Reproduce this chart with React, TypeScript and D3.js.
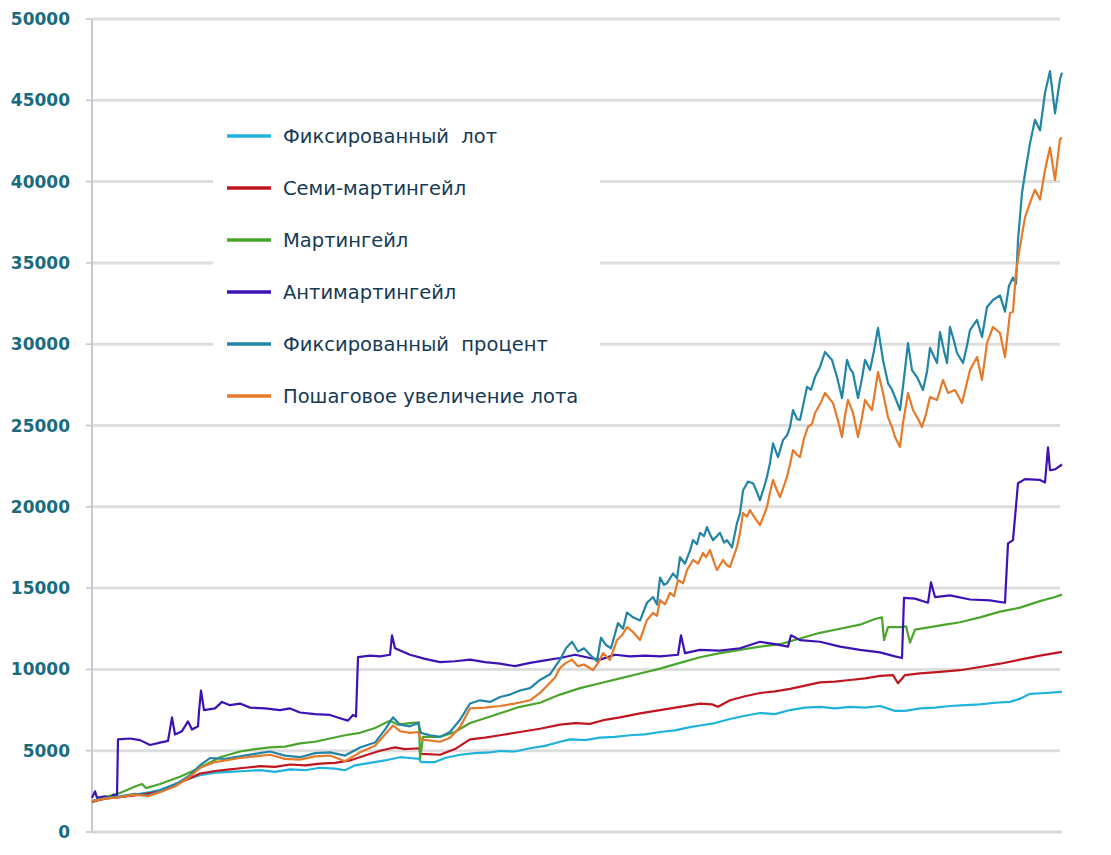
import React from "react";
import * as d3 from "d3";

type Pt = [number, number];

const yTicks = [0, 5000, 10000, 15000, 20000, 25000, 30000, 35000, 40000, 45000, 50000];

const seriesNames = [
  "Фиксированный  лот",
  "Семи-мартингейл",
  "Мартингейл",
  "Антимартингейл",
  "Фиксированный  процент",
  "Пошаговое увеличение лота",
];

const seriesColors = ["#1fb2dc", "#c0161f", "#4ba52d", "#3d12b5", "#2385a5", "#e47a2a"];

const fixedLot: Pt[] = [
  [0, 1850], [8, 2050], [18, 2100], [28, 2150], [43, 2300], [58, 2450], [68, 2600], [83, 2950], [98, 3300],
  [108, 3500], [123, 3650], [138, 3700], [153, 3750], [168, 3800], [183, 3700], [198, 3850], [213, 3800],
  [228, 3950], [243, 3900], [253, 3800], [263, 4100], [278, 4250], [293, 4400], [308, 4600], [318, 4550],
  [327, 4500], [329, 4300], [343, 4300], [353, 4550], [368, 4750], [383, 4850], [398, 4900], [408, 4980],
  [423, 4950], [438, 5150], [453, 5300], [468, 5550], [478, 5700], [493, 5650], [508, 5800], [523, 5850],
  [538, 5950], [553, 6000], [568, 6150], [583, 6250], [598, 6450], [608, 6550], [623, 6700], [638, 6950],
  [653, 7150], [668, 7320], [683, 7250], [698, 7500], [713, 7650], [728, 7700], [743, 7600], [758, 7700],
  [773, 7650], [788, 7750], [803, 7450], [813, 7450], [828, 7600], [843, 7650], [858, 7750], [873, 7800],
  [888, 7850], [903, 7950], [918, 8000], [928, 8200], [938, 8500], [953, 8550], [970, 8620],
];

const semiMartingale: Pt[] = [
  [0, 1850], [13, 2050], [26, 2150], [43, 2250], [58, 2400], [68, 2500], [83, 2900], [98, 3300], [108, 3600],
  [123, 3750], [138, 3850], [153, 3950], [168, 4050], [183, 4000], [198, 4150], [213, 4100], [228, 4200],
  [243, 4250], [258, 4400], [273, 4700], [288, 5000], [303, 5200], [313, 5100], [327, 5150], [329, 4800],
  [348, 4750], [363, 5100], [378, 5700], [393, 5800], [408, 5950], [428, 6150], [448, 6350], [468, 6600],
  [483, 6700], [498, 6650], [513, 6900], [528, 7050], [548, 7300], [568, 7500], [588, 7700], [608, 7900],
  [620, 7850], [626, 7700], [638, 8100], [653, 8350], [668, 8550], [683, 8650], [698, 8800], [713, 9000],
  [728, 9200], [743, 9250], [758, 9350], [773, 9450], [788, 9600], [801, 9650], [806, 9150], [813, 9650],
  [828, 9750], [848, 9850], [868, 9950], [888, 10150], [908, 10350], [928, 10600], [948, 10850], [970, 11080],
];

const martingale: Pt[] = [
  [0, 1850], [13, 2150], [28, 2400], [43, 2800], [50, 2950], [54, 2700], [68, 2950], [88, 3400], [108, 3950],
  [128, 4600], [148, 4950], [163, 5100], [178, 5200], [193, 5250], [208, 5450], [223, 5550], [238, 5750],
  [253, 5950], [268, 6100], [283, 6400], [298, 6850], [306, 6600], [318, 6700], [327, 6750], [328, 4500],
  [331, 5850], [348, 5850], [363, 6150], [378, 6700], [393, 7000], [408, 7300], [428, 7700], [448, 7950],
  [468, 8450], [488, 8850], [508, 9150], [528, 9450], [548, 9750], [568, 10050], [588, 10400], [608, 10750],
  [628, 11000], [648, 11200], [668, 11400], [688, 11550], [708, 11900], [728, 12250], [748, 12500],
  [768, 12750], [783, 13100], [790, 13200], [792, 11800], [796, 12600], [808, 12600], [814, 12650],
  [818, 11650], [823, 12450], [838, 12600], [853, 12750], [868, 12900], [888, 13200], [908, 13550],
  [928, 13800], [948, 14200], [963, 14450], [970, 14600],
];

const antiMartingale: Pt[] = [
  [0, 2100], [3, 2500], [5, 2100], [13, 2200], [18, 2100], [22, 2300], [25, 2150], [26, 5700], [38, 5750],
  [48, 5650], [58, 5350], [68, 5500], [76, 5600], [80, 7050], [83, 6000], [90, 6200], [96, 6800], [100, 6300],
  [106, 6500], [107, 7400], [109, 8700], [112, 7500], [123, 7600], [130, 8000], [138, 7800], [148, 7900],
  [158, 7650], [173, 7600], [188, 7500], [198, 7600], [208, 7350], [223, 7250], [238, 7200], [248, 7000],
  [256, 6850], [261, 7200], [264, 7100], [266, 10750], [278, 10850], [288, 10800], [298, 10900], [300, 12100],
  [303, 11300], [318, 10900], [333, 10650], [348, 10450], [363, 10500], [378, 10600], [393, 10450],
  [408, 10350], [423, 10200], [438, 10400], [453, 10550], [468, 10700], [483, 10900], [498, 10700],
  [508, 10600], [523, 10900], [538, 10800], [553, 10850], [568, 10800], [586, 10900], [589, 12100],
  [593, 11000], [608, 11200], [628, 11150], [648, 11300], [668, 11700], [683, 11550], [696, 11400],
  [699, 12100], [708, 11800], [728, 11700], [748, 11400], [768, 11200], [788, 11050], [803, 10800],
  [810, 10700], [812, 14400], [823, 14350], [836, 14100], [839, 15350], [843, 14450], [858, 14550],
  [878, 14300], [898, 14250], [913, 14100], [916, 17750], [921, 17950], [926, 21450], [933, 21700],
  [948, 21650], [953, 21500], [956, 23650], [958, 22250], [963, 22300], [970, 22600],
];

const fixedPercent: Pt[] = [
  [0, 1900], [13, 2100], [28, 2200], [43, 2350], [56, 2250], [68, 2500], [83, 2900], [98, 3500], [108, 4100],
  [118, 4550], [133, 4500], [148, 4650], [163, 4800], [178, 4950], [193, 4700], [208, 4600], [223, 4850],
  [238, 4900], [253, 4700], [268, 5200], [283, 5500], [293, 6300], [301, 7050], [308, 6600], [318, 6500],
  [326, 6700], [329, 6100], [338, 5950], [348, 5850], [358, 6150], [368, 6900], [378, 7900], [388, 8100],
  [398, 8000], [408, 8300], [418, 8450], [428, 8700], [438, 8850], [448, 9350], [458, 9700],
  [463, 10150], [468, 10600], [474, 11300], [480, 11700], [486, 11100], [492, 11300], [498, 10900],
  [505, 10500], [509, 11950], [514, 11500], [519, 11300], [526, 12850], [531, 12500], [535, 13500],
  [541, 13200], [548, 13000], [555, 14100], [561, 14450], [565, 14000], [568, 15650], [572, 15200],
  [575, 15300], [581, 15900], [585, 15600], [588, 16900], [593, 16500], [598, 17300], [601, 17950],
  [605, 17700], [608, 18400], [612, 18200], [615, 18750], [618, 18300], [621, 17950], [625, 18200],
  [628, 18400], [632, 17800], [635, 17950], [640, 17500], [645, 19000], [648, 19600], [651, 21000],
  [656, 21550], [661, 21450], [665, 20900], [668, 20400], [672, 21200], [675, 21850], [678, 22700],
  [681, 23900], [686, 23050], [691, 24100], [695, 24400], [698, 24900], [701, 25950], [705, 25400],
  [708, 25340], [712, 26500], [715, 27370], [719, 27200], [723, 27980], [728, 28600], [733, 29520],
  [736, 29300], [740, 29030], [745, 27980], [750, 26690], [755, 29030], [758, 28500], [761, 28230],
  [766, 26690], [770, 27900], [773, 29030], [778, 28410], [782, 29600], [786, 31000], [791, 29030],
  [796, 27610], [800, 27200], [803, 26750], [808, 25950], [811, 27370], [816, 30070], [820, 28410],
  [825, 27980], [831, 27180], [835, 28300], [838, 29770], [845, 28840], [848, 30750], [852, 29600],
  [855, 28840], [858, 31060], [862, 30200], [865, 29460], [871, 28840], [875, 29900], [878, 30870],
  [885, 31490], [890, 30440], [895, 32290], [901, 32720], [908, 33000], [913, 32000], [917, 33600],
  [921, 34100], [924, 33700], [926, 36400], [930, 39300], [933, 40500], [938, 42350], [943, 43800],
  [948, 43150], [953, 45450], [958, 46800], [963, 44200], [968, 46300], [970, 46700],
];

const stepLot: Pt[] = [
  [0, 1900], [13, 2050], [28, 2150], [43, 2300], [56, 2200], [68, 2450], [83, 2800], [98, 3400], [108, 3950],
  [123, 4300], [148, 4550], [163, 4650], [178, 4750], [193, 4500], [208, 4450], [223, 4650], [238, 4700],
  [253, 4350], [268, 4900], [283, 5300], [293, 6000], [301, 6550], [308, 6200], [318, 6100], [326, 6150],
  [329, 5700], [348, 5550], [358, 5800], [368, 6450], [378, 7600], [393, 7650], [408, 7750], [423, 7900],
  [438, 8100], [448, 8550], [463, 9500], [468, 10100], [474, 10400], [480, 10600], [486, 10200],
  [492, 10300], [501, 9960], [506, 10400], [511, 11000], [518, 10580], [525, 11810], [530, 12100],
  [535, 12600], [541, 12300], [548, 11810], [555, 13040], [561, 13470], [565, 13300], [568, 14270],
  [573, 14000], [578, 14700], [582, 14500], [586, 15500], [591, 15300], [595, 16100], [601, 16730],
  [606, 16500], [611, 17160], [614, 16900], [618, 17340], [622, 16600], [625, 16110], [631, 16730],
  [635, 16400], [638, 16300], [645, 17530], [648, 18400], [651, 19620], [655, 19400], [658, 19800],
  [663, 19300], [668, 18880], [672, 19500], [675, 19990], [678, 20900], [681, 21650], [685, 21000],
  [688, 20600], [692, 21300], [695, 21840], [698, 22600], [701, 23490], [705, 23200], [708, 23060],
  [712, 24200], [716, 24910], [720, 25100], [723, 25770], [728, 26300], [733, 27000], [737, 26700],
  [741, 26380], [746, 25300], [750, 24290], [753, 25600], [756, 26570], [761, 25770], [766, 24290],
  [770, 25500], [773, 26570], [777, 26200], [780, 25950], [783, 27100], [786, 28290], [791, 27000],
  [796, 25520], [800, 24900], [803, 24290], [808, 23680], [811, 25150], [816, 27000], [821, 25950],
  [826, 25400], [830, 24910], [834, 25700], [838, 26750], [845, 26570], [851, 27800], [856, 27000],
  [863, 27180], [870, 26380], [874, 27400], [878, 28410], [885, 29210], [890, 27800], [895, 30070],
  [901, 31060], [908, 30690], [913, 29210], [918, 31920], [921, 32000], [924, 34400], [928, 36000],
  [933, 37800], [938, 38700], [943, 39500], [948, 38900], [953, 40700], [958, 42100], [963, 40100],
  [968, 42600], [970, 42700],
];

const allSeries: Pt[][] = [fixedLot, semiMartingale, martingale, antiMartingale, fixedPercent, stepLot];

const W = 1111;
const H = 855;
const left = 92;
const right = 1062;
const top = 19;
const bottom = 832;

export default function App() {
  const x = d3.scaleLinear().domain([0, 970]).range([left, right]);
  const y = d3.scaleLinear().domain([0, 50000]).range([bottom, top]);
  const line = d3
    .line<Pt>()
    .x((d) => x(d[0]))
    .y((d) => y(d[1]));

  const legX = 213;
  const legY = 104;
  const legW = 387;
  const legH = 320;
  const rowY = d3.scalePoint<number>().domain(d3.range(6)).range([136, 396]);

  return (
    <svg
      width={W}
      height={H}
      style={{ position: "absolute", left: 0, top: 0, background: "#fff" }}
      fontFamily="DejaVu Sans, Verdana, sans-serif"
    >
      <rect x={0} y={0} width={W} height={H} fill="#ffffff" />
      {yTicks.map((t) => (
        <g key={t}>
          {t > 0 && (
            <line x1={left} x2={right - 2} y1={y(t)} y2={y(t)} stroke="#dedede" strokeWidth={3} />
          )}
          <line x1={left - 6} x2={left} y1={y(t)} y2={y(t)} stroke="#c4c4c4" strokeWidth={1.5} />
          <text
            x={70}
            y={y(t)}
            textAnchor="end"
            dominantBaseline="central"
            fill="#1b6b7f"
            fontSize={17}
            fontWeight={600}
          >
            {t}
          </text>
        </g>
      ))}
      <line x1={left} x2={left} y1={top} y2={bottom} stroke="#c8c8c8" strokeWidth={2} />
      <line x1={left} x2={right} y1={bottom} y2={bottom} stroke="#d8d8d8" strokeWidth={3} />

      {allSeries.map((s, i) => (
        <path
          key={i}
          d={line(s) || ""}
          fill="none"
          stroke={seriesColors[i]}
          strokeWidth={2.2}
          strokeLinejoin="round"
        />
      ))}

      <rect x={legX} y={legY} width={legW} height={legH} fill="#ffffff" />
      {seriesNames.map((n, i) => (
        <g key={n}>
          <line
            x1={227}
            x2={271}
            y1={rowY(i)!}
            y2={rowY(i)!}
            stroke={seriesColors[i]}
            strokeWidth={3.5}
          />
          <text
            x={283}
            y={rowY(i)!}
            dominantBaseline="central"
            fill="#173a55"
            fontSize={19.5}
            style={{ whiteSpace: "pre" }}
          >
            {n}
          </text>
        </g>
      ))}
    </svg>
  );
}
